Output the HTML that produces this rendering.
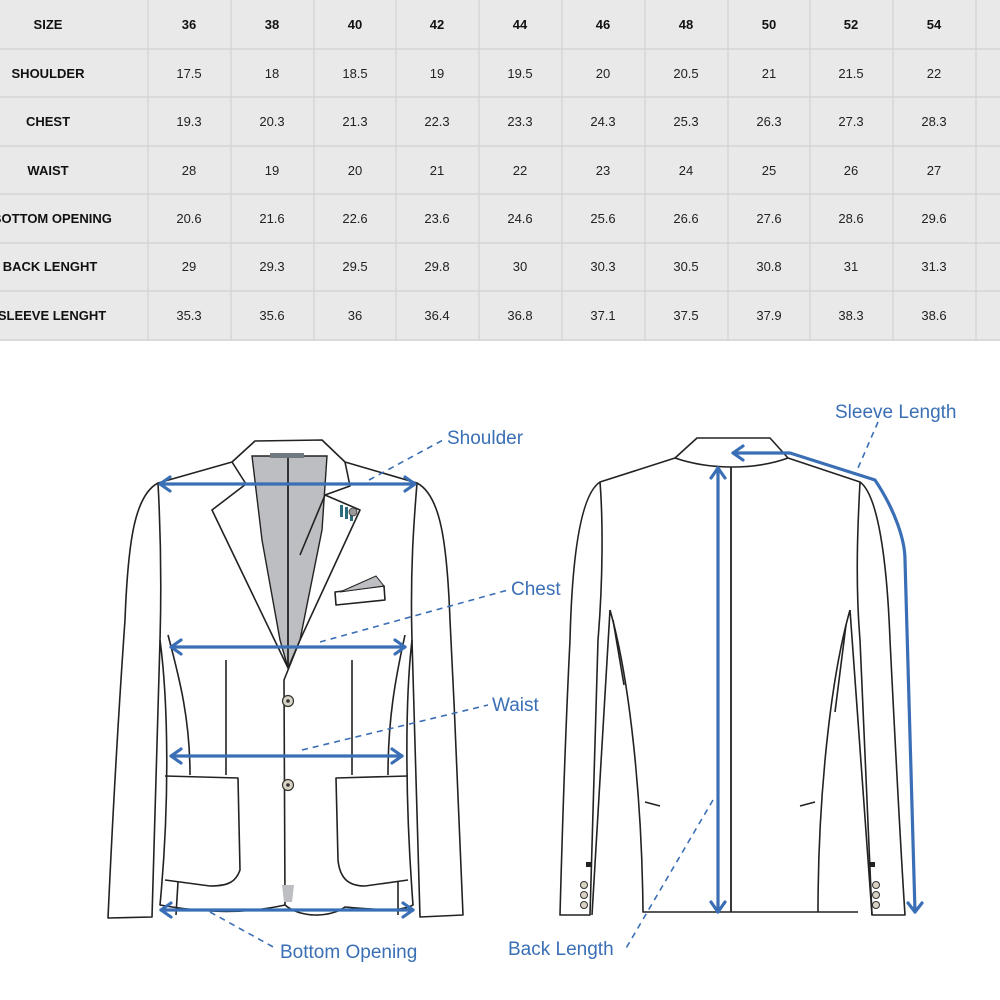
<!DOCTYPE html>
<html><head><meta charset="utf-8"><style>
html,body{margin:0;padding:0;background:#fff;width:1000px;height:1000px;overflow:hidden}
svg{display:block}
.h{font:bold 13px "Liberation Sans",sans-serif;fill:#111}
.v{font:13px "Liberation Sans",sans-serif;fill:#222}
.lb{font:19px "Liberation Sans",sans-serif;fill:#3a6fb5}
.o{fill:none;stroke:#222;stroke-width:1.6;stroke-linejoin:round}
.b{fill:none;stroke:#3a6fb5;stroke-width:3.2;stroke-linecap:round;stroke-linejoin:round}
.d{fill:none;stroke:#3a6fb5;stroke-width:1.6;stroke-dasharray:6 5}
</style></head><body>
<svg width="1000" height="1000" viewBox="0 0 1000 1000">
<rect x="0" y="0" width="1000" height="341" fill="#e9e9e9"/>
<g stroke="#d2d2d2" stroke-width="1.2">
<line x1="0" y1="49" x2="1000" y2="49"/><line x1="0" y1="97" x2="1000" y2="97"/><line x1="0" y1="146" x2="1000" y2="146"/><line x1="0" y1="194" x2="1000" y2="194"/><line x1="0" y1="243" x2="1000" y2="243"/><line x1="0" y1="291" x2="1000" y2="291"/><line x1="0" y1="340" x2="1000" y2="340"/>
<line x1="148" y1="0" x2="148" y2="340"/><line x1="231" y1="0" x2="231" y2="340"/><line x1="314" y1="0" x2="314" y2="340"/><line x1="396" y1="0" x2="396" y2="340"/><line x1="479" y1="0" x2="479" y2="340"/><line x1="562" y1="0" x2="562" y2="340"/><line x1="645" y1="0" x2="645" y2="340"/><line x1="728" y1="0" x2="728" y2="340"/><line x1="810" y1="0" x2="810" y2="340"/><line x1="893" y1="0" x2="893" y2="340"/><line x1="976" y1="0" x2="976" y2="340"/>
</g>
<g text-anchor="middle">
<text class="h" x="48" y="29">SIZE</text>
<text class="h" x="48" y="78">SHOULDER</text>
<text class="h" x="48" y="126">CHEST</text>
<text class="h" x="48" y="175">WAIST</text>
<text class="h" x="52" y="223">BOTTOM OPENING</text>
<text class="h" x="50" y="271">BACK LENGHT</text>
<text class="h" x="52" y="320">SLEEVE LENGHT</text>
<g class="h"><text x="189" y="29">36</text><text x="272" y="29">38</text><text x="355" y="29">40</text><text x="437" y="29">42</text><text x="520" y="29">44</text><text x="603" y="29">46</text><text x="686" y="29">48</text><text x="769" y="29">50</text><text x="851" y="29">52</text><text x="934" y="29">54</text></g>
<g class="v">
<text x="189" y="78">17.5</text><text x="272" y="78">18</text><text x="355" y="78">18.5</text><text x="437" y="78">19</text><text x="520" y="78">19.5</text><text x="603" y="78">20</text><text x="686" y="78">20.5</text><text x="769" y="78">21</text><text x="851" y="78">21.5</text><text x="934" y="78">22</text>
<text x="189" y="126">19.3</text><text x="272" y="126">20.3</text><text x="355" y="126">21.3</text><text x="437" y="126">22.3</text><text x="520" y="126">23.3</text><text x="603" y="126">24.3</text><text x="686" y="126">25.3</text><text x="769" y="126">26.3</text><text x="851" y="126">27.3</text><text x="934" y="126">28.3</text>
<text x="189" y="175">28</text><text x="272" y="175">19</text><text x="355" y="175">20</text><text x="437" y="175">21</text><text x="520" y="175">22</text><text x="603" y="175">23</text><text x="686" y="175">24</text><text x="769" y="175">25</text><text x="851" y="175">26</text><text x="934" y="175">27</text>
<text x="189" y="223">20.6</text><text x="272" y="223">21.6</text><text x="355" y="223">22.6</text><text x="437" y="223">23.6</text><text x="520" y="223">24.6</text><text x="603" y="223">25.6</text><text x="686" y="223">26.6</text><text x="769" y="223">27.6</text><text x="851" y="223">28.6</text><text x="934" y="223">29.6</text>
<text x="189" y="271">29</text><text x="272" y="271">29.3</text><text x="355" y="271">29.5</text><text x="437" y="271">29.8</text><text x="520" y="271">30</text><text x="603" y="271">30.3</text><text x="686" y="271">30.5</text><text x="769" y="271">30.8</text><text x="851" y="271">31</text><text x="934" y="271">31.3</text>
<text x="189" y="320">35.3</text><text x="272" y="320">35.6</text><text x="355" y="320">36</text><text x="437" y="320">36.4</text><text x="520" y="320">36.8</text><text x="603" y="320">37.1</text><text x="686" y="320">37.5</text><text x="769" y="320">37.9</text><text x="851" y="320">38.3</text><text x="934" y="320">38.6</text>
</g></g>

<!-- FRONT JACKET -->
<path class="o" d="M158,483 C135,495 128,540 125,620 C118,720 112,830 108,918 L152,917 L160,640 C162,570 160,520 158,483 Z"/>
<path class="o" d="M417,483 C440,495 447,540 450,620 C455,720 460,830 463,915 L420,917 L412,640 C410,570 414,520 417,483 Z"/>
<path class="o" d="M158,483 L232,462 L255,441 L322,440 L345,462 L417,483"/>
<path class="o" d="M160,640 C168,700 170,800 160,905 C200,912 240,915 285,905 C300,918 330,918 345,907 C380,910 400,912 413,905 C405,800 405,700 412,640"/>
<path d="M252,456 L327,456 L322,530 L300,640 L288,668 L280,640 L262,540 Z" fill="#bdbec1" stroke="#222" stroke-width="1.4"/>
<line x1="288" y1="456" x2="288" y2="668" stroke="#222" stroke-width="1.8"/>
<rect x="270" y="453" width="34" height="5" fill="#707880"/>
<path class="o" d="M232,462 L246,484 L212,510 L288,668"/>
<path class="o" d="M345,462 L350,486 L325,495 L360,510 L300,640 L284,680 L285,905"/>
<path class="o" d="M325,495 L300,555"/>
<path class="o" d="M335,592 L384,586 L385,600 L336,605 Z"/>
<path d="M340,592 L376,576 L384,586 Z" fill="#bdbec1" stroke="#222" stroke-width="1"/>
<g fill="#2d6c7a"><rect x="340" y="505" width="3" height="12"/><rect x="345" y="507" width="3" height="12"/><rect x="350" y="509" width="3" height="12"/></g>
<circle cx="353" cy="512" r="4" fill="#999" stroke="#333" stroke-width="0.8"/>
<path class="o" d="M226,660 L226,775 M352,660 L352,775 M168,635 C180,680 190,720 190,775 M405,635 C395,680 388,720 388,775"/>
<path class="o" d="M165,776 L238,778 L240,870 C236,882 228,886 210,886 L165,880"/>
<path class="o" d="M408,776 L336,778 L338,860 C340,880 350,886 365,886 L408,880"/>
<path class="o" d="M178,882 L176,915 M398,882 L398,915"/>
<circle cx="288" cy="701" r="5.5" fill="#d9d3c4" stroke="#333" stroke-width="1.2"/><circle cx="288" cy="701" r="1.8" fill="#333"/>
<circle cx="288" cy="785" r="5.5" fill="#d9d3c4" stroke="#333" stroke-width="1.2"/><circle cx="288" cy="785" r="1.8" fill="#333"/>
<path d="M282,885 L294,885 L292,902 L284,902 Z" fill="#bdbec1"/>

<!-- BACK JACKET -->
<path class="o" d="M600,482 C580,495 572,560 570,640 C565,740 562,840 560,915 L590,915 L598,640 C603,580 603,520 600,482 Z"/>
<path class="o" d="M860,482 C878,495 887,560 890,640 C895,740 900,840 905,915 L872,915 L860,640 C855,580 858,520 860,482 Z"/>
<path class="o" d="M600,482 L675,458 L697,438 L770,438 L788,458 L860,482"/>
<path class="o" d="M675,458 C710,470 755,470 788,458"/>
<path class="o" d="M610,610 C630,680 642,800 643,912 L858,912 M850,610 C830,680 818,800 818,912"/>
<path class="o" d="M610,610 L592,915 M850,610 L872,915 M613,620 L624,685 M846,625 L835,712"/>
<line x1="731" y1="467" x2="731" y2="912" stroke="#222" stroke-width="1.8"/>
<path class="o" d="M645,802 L660,806 M800,806 L815,802" />
<rect x="586" y="862" width="5" height="5" fill="#222"/><rect x="870" y="862" width="5" height="5" fill="#222"/>
<g fill="#d9d3c4" stroke="#333" stroke-width="1"><circle cx="584" cy="885" r="3.5"/><circle cx="584" cy="895" r="3.5"/><circle cx="584" cy="905" r="3.5"/><circle cx="876" cy="885" r="3.5"/><circle cx="876" cy="895" r="3.5"/><circle cx="876" cy="905" r="3.5"/></g>

<!-- BLUE ARROWS -->
<g class="b">
<line x1="160" y1="484" x2="415" y2="484"/><polyline points="170,477 160,484 170,491"/><polyline points="405,477 415,484 405,491"/>
<line x1="171" y1="647" x2="405" y2="647"/><polyline points="181,640 171,647 181,654"/><polyline points="395,640 405,647 395,654"/>
<line x1="171" y1="756" x2="402" y2="756"/><polyline points="181,749 171,756 181,763"/><polyline points="392,749 402,756 392,763"/>
<line x1="161" y1="910" x2="413" y2="910"/><polyline points="171,903 161,910 171,917"/><polyline points="403,903 413,910 403,917"/>
<line x1="718" y1="468" x2="718" y2="912"/><polyline points="711,478 718,468 725,478"/><polyline points="711,902 718,912 725,902"/>
<path d="M733,453 L790,453 L875,480 C895,510 905,540 905,560 L915,912"/><polyline points="743,446 733,453 743,460"/><polyline points="908,903 915,912 922,903"/>
</g>
<g class="d">
<line x1="369" y1="480" x2="443" y2="440"/>
<line x1="320" y1="642" x2="508" y2="590"/>
<line x1="302" y1="750" x2="488" y2="705"/>
<line x1="210" y1="912" x2="275" y2="948"/>
<line x1="713" y1="800" x2="625" y2="950"/>
<line x1="878" y1="422" x2="855" y2="475"/>
</g>
<text class="lb" x="447" y="444">Shoulder</text>
<text class="lb" x="511" y="595">Chest</text>
<text class="lb" x="492" y="711">Waist</text>
<text class="lb" x="280" y="958">Bottom Opening</text>
<text class="lb" x="508" y="955">Back Length</text>
<text class="lb" x="835" y="418">Sleeve Length</text>
</svg>
</body></html>
